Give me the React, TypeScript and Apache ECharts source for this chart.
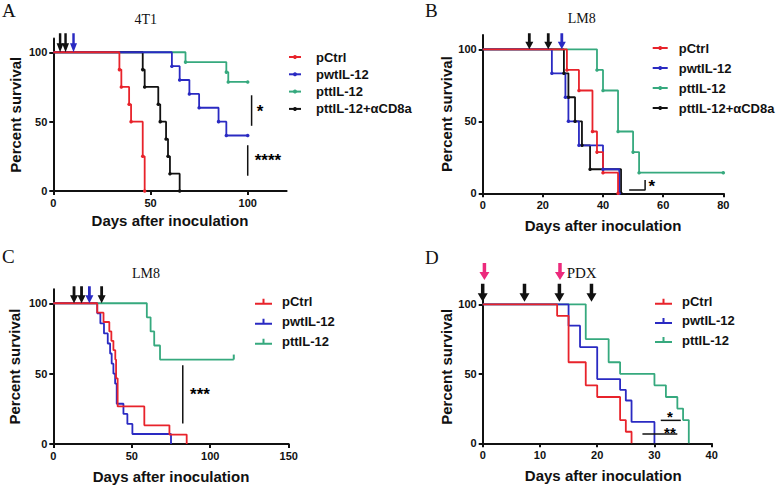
import React, { useEffect, useRef } from 'react';
import * as echarts from 'echarts';

// ---------- Data ----------
// Panel A (4T1)
const A_pCtrl = [[0, 100], [34, 87.5], [35, 75], [39, 62.5], [40, 50], [46, 25], [47, 0]];
const A_pwtIL12 = [[0, 100], [61, 90], [65, 80], [70, 70], [75, 60], [85, 50], [89, 40], [100, 40]];
const A_pttIL12 = [[0, 100], [68, 92.9], [89, 85.7], [90, 78.6], [100, 78.6]];
const A_aCD8a = [[0, 100], [46, 87.5], [47, 75], [54, 62.5], [55, 50], [58, 37.5], [59, 25], [60, 12.5], [65, 0]];
const A_blackArrows = [3.5, 6.3];
const A_blueArrows = [10.4];

// Panel B (LM8)
const B_pCtrl = [[0, 100], [28, 85.7], [32, 71.4], [36.5, 42.9], [38, 28.6], [40, 14.3], [45, 0]];
const B_pwtIL12 = [[0, 100], [23, 83.3], [27.5, 66.7], [28.5, 50], [32, 33.3], [40, 16.7], [45.4, 0]];
const B_pttIL12 = [[0, 100], [38, 85.7], [40, 71.4], [45, 42.9], [50, 28.6], [52, 14.3], [80, 14.3]];
const B_aCD8a = [[0, 100], [27, 83.3], [28.5, 66.7], [30.7, 50], [33, 33.3], [35.7, 16.7], [46, 0]];
const B_blackArrows = [15.5, 21.8];
const B_blueArrows = [26.3];

// Panel C (LM8)
const C_pCtrl = [[0, 100], [28, 93.3], [32, 86.7], [35.7, 80], [37, 73.3], [38.3, 66.7], [39.5, 60], [40, 46.7], [41, 26.7], [58, 13.3], [74, 6.7], [85, 0]];
const C_pwtIL12 = [[0, 100], [28, 92.9], [30, 85.7], [32.3, 78.6], [34.7, 71.4], [36.2, 64.3], [37.2, 57.1], [38.3, 50], [39.4, 42.9], [40.4, 28.6], [44.7, 21.4], [47.2, 14.3], [50.4, 7.1], [75, 0]];
const C_pttIL12 = [[0, 100], [59.6, 90], [62, 80], [64.3, 70], [68, 60], [115, 60]];
const C_censor = [[115, 60]];
const C_blackArrows = [13.2, 18, 30.8];
const C_blueArrows = [23];

// Panel D (PDX)
const D_pCtrl = [[0, 100], [13, 91.7], [15, 58.3], [18, 41.7], [20, 33.3], [24, 16.7], [25, 8.3], [26, 0]];
const D_pwtIL12 = [[0, 100], [15, 84.6], [17, 69.2], [20, 46.2], [24, 38.5], [25, 30.8], [26, 15.4], [30, 0]];
const D_pttIL12 = [[0, 100], [18, 75], [22, 58.3], [24, 50], [30, 41.7], [32, 33.3], [34, 25], [35, 16.7], [36, 0]];
const D_blackArrows = [0, 7.3, 13.4, 19];
const D_pinkArrows = [0.3, 13.5];

const legendABNames = ['pCtrl', 'pwtIL-12', 'pttIL-12', 'pttIL-12+αCD8a'];
const legendCDNames = ['pCtrl', 'pwtIL-12', 'pttIL-12'];

// ---------- Styles ----------
const SANS = '"Liberation Sans", Arial, Helvetica, sans-serif';
const SERIF = '"Liberation Serif", "Times New Roman", serif';
const RED = '#e8232b';
const BLUE = '#2a2ac2';
const GREEN = '#36a97e';
const BLACK = '#111111';
const PINK = '#ec2a7c';
const ARROW = 'path://M2.6,0 L5.4,0 L5.4,9.5 L8,9.5 L4,18 L0,9.5 L2.6,9.5 Z';
const TICKICON = 'path://M0,4 L17,4 L17,6 L0,6 Z M7.5,0 L9.5,0 L9.5,5 L7.5,5 Z';

function km(name: string, data: number[][], color: string, gi: number, dots: boolean) {
  return {
    type: 'line', name, xAxisIndex: gi, yAxisIndex: gi, step: 'end',
    data: data.map((p, i) => (i === 0 ? { value: p, symbol: 'none' } : p)),
    symbol: dots ? 'circle' : 'none', symbolSize: 3.5, showSymbol: dots,
    lineStyle: { color, width: 1.8 }, itemStyle: { color, opacity: 1 },
    clip: false, silent: true, z: 3,
  };
}
function arrows(xs: number[], color: string, gi: number, w: number, h: number, lift: number) {
  return {
    type: 'scatter', xAxisIndex: gi, yAxisIndex: gi, data: xs.map((x) => [x, 100]),
    symbol: ARROW, symbolSize: [w, h], symbolOffset: [0, -(h / 2 + lift)],
    itemStyle: { color, opacity: 1 }, clip: false, silent: true, z: 5,
  };
}
function seg(pts: number[][], gi: number) {
  return {
    type: 'line', xAxisIndex: gi, yAxisIndex: gi, data: pts, symbol: 'none', showSymbol: false,
    lineStyle: { color: BLACK, width: 1.5 }, silent: true, clip: false, z: 4,
  };
}
function star(x: number, y: number, text: string, gi: number, size = 17) {
  return {
    type: 'scatter', xAxisIndex: gi, yAxisIndex: gi, data: [[x, y]], symbol: 'circle', symbolSize: 0.1,
    itemStyle: { color: 'rgba(255,255,255,0)', opacity: 1 },
    label: { show: true, position: 'inside', formatter: text, fontSize: size, fontWeight: 'bold', color: '#000', opacity: 1, fontFamily: SANS, offset: [0, size * 0.24], lineHeight: 10 },
    silent: true, clip: false, z: 6,
  };
}

const axisCommon = {
  axisLine: { lineStyle: { color: BLACK, width: 2 } },
  axisTick: { length: 4, lineStyle: { color: BLACK, width: 2 } },
  splitLine: { show: false },
  nameTextStyle: { fontFamily: SANS, fontSize: 15, fontWeight: 'bold', color: BLACK },
};
function xAx(gi: number, max: number, interval: number, ticks: number[], nameGap: number, namePad: number[]) {
  return {
    ...axisCommon, type: 'value', gridIndex: gi, min: 0, max, interval,
    name: 'Days after inoculation', nameLocation: 'middle', nameGap,
    nameTextStyle: { ...axisCommon.nameTextStyle, padding: namePad },
    axisTick: { ...axisCommon.axisTick, customValues: ticks },
    axisLabel: { customValues: ticks, fontFamily: SANS, fontSize: 11, fontWeight: 'bold', color: BLACK, margin: 6 },
  };
}
function yAx(gi: number, nameGap: number) {
  const ticks = [0, 50, 100];
  return {
    ...axisCommon, type: 'value', gridIndex: gi, min: 0, max: 110, interval: 50,
    name: 'Percent survival', nameLocation: 'middle', nameGap,
    axisTick: { ...axisCommon.axisTick, customValues: ticks },
    axisLabel: { customValues: ticks, fontFamily: SANS, fontSize: 11, fontWeight: 'bold', color: BLACK, margin: 6 },
  };
}
function legend(prefix: string, names: string[], left: number, top: number, itemWidth: number, itemHeight: number, gap: number, pad: number, icon?: string) {
  return {
    orient: 'vertical', left, top, itemWidth, itemHeight, itemGap: gap, padding: 0, selectedMode: false,
    data: names.map((n) => (icon ? { name: prefix + '|' + n, icon } : { name: prefix + '|' + n })),
    formatter: (name: string) => name.split('|')[1],
    textStyle: { fontFamily: SANS, fontSize: 13, fontWeight: 'bold', color: BLACK, lineHeight: 14, padding: [0, 0, 0, pad] },
  };
}
function label(text: string, x: number, y: number, size: number, align = 'left') {
  return { type: 'text', x, y, silent: true, style: { text, font: `${size}px ${SERIF}`, fill: BLACK, align, verticalAlign: 'middle' } };
}

export default function App() {
  const ref = useRef<HTMLDivElement>(null);
  useEffect(() => {
    const chart = echarts.init(ref.current!, undefined, { renderer: 'svg' });
    const option: any = {
      animation: false,
      backgroundColor: '#ffffff',
      grid: [
        { left: 53.3, top: 38.4, width: 233.3, height: 152.6 },
        { left: 482.7, top: 34.9, width: 240.6, height: 158.4 },
        { left: 53.3, top: 289.2, width: 235.4, height: 154.8 },
        { left: 482.7, top: 290.4, width: 229, height: 152.9 },
      ],
      xAxis: [
        xAx(0, 120, 50, [0, 50, 100], 22, [0, 0, 0, 0]),
        xAx(1, 80, 20, [0, 20, 40, 60, 80], 25, [0, 0, 0, 0]),
        xAx(2, 150, 50, [0, 50, 100, 150], 25, [0, 0, 0, 0]),
        xAx(3, 40, 10, [0, 10, 20, 30, 40], 25, [0, 0, 0, 12]),
      ],
      yAxis: [yAx(0, 30), yAx(1, 27), yAx(2, 31), yAx(3, 27)],
      legend: [
        legend('A', legendABNames, 288, 50, 12, 5, 3.3, 10),
        legend('B', legendABNames, 651.7, 41, 15, 5, 6, 6),
        legend('C', legendCDNames, 255, 294.7, 17, 6, 6, 5, TICKICON),
        legend('D', legendCDNames, 655, 294.7, 17, 6, 5.2, 5, TICKICON),
      ],
      graphic: [
        label('A', 2, 10.5, 19), label('B', 425, 10.5, 19), label('C', 2, 256, 19), label('D', 425, 257, 19),
        label('4T1', 145.8, 19, 14, 'center'), label('LM8', 581.7, 18.3, 14, 'center'),
        label('LM8', 146, 273.3, 14, 'center'), label('PDX', 581.7, 272.7, 15, 'center'),
      ],
      series: [
        // A
        km('A|pttIL-12', A_pttIL12, GREEN, 0, true),
        km('A|pttIL-12+αCD8a', A_aCD8a, BLACK, 0, true),
        km('A|pwtIL-12', A_pwtIL12, BLUE, 0, true),
        km('A|pCtrl', A_pCtrl, RED, 0, true),
        arrows(A_blackArrows, BLACK, 0, 7, 19, 0),
        arrows(A_blueArrows, BLUE, 0, 7, 19, 0),
        seg([[102, 69], [102, 47]], 0), seg([[100, 33], [100, 11]], 0),
        star(106.3, 60.3, '*', 0), star(110.4, 24.7, '****', 0),
        // B
        km('B|pttIL-12', B_pttIL12, GREEN, 1, true),
        km('B|pttIL-12+αCD8a', B_aCD8a, BLACK, 1, true),
        km('B|pwtIL-12', B_pwtIL12, BLUE, 1, true),
        km('B|pCtrl', B_pCtrl, RED, 1, true),
        arrows(B_blackArrows, BLACK, 1, 8, 16, 0),
        arrows(B_blueArrows, BLUE, 1, 8, 16, 0),
        seg([[48.7, 2.3], [54, 2.3], [54, 9.3]], 1),
        star(56.2, 7.4, '*', 1),
        // C
        km('C|pttIL-12', C_pttIL12, GREEN, 2, false),
        km('C|pwtIL-12', C_pwtIL12, BLUE, 2, false),
        km('C|pCtrl', C_pCtrl, RED, 2, false),
        {
          type: 'scatter', xAxisIndex: 2, yAxisIndex: 2, data: C_censor, symbol: 'rect', symbolSize: [2, 5],
          symbolOffset: [0, -2.5], itemStyle: { color: GREEN, opacity: 1 }, silent: true, clip: false, z: 4,
        },
        arrows(C_blackArrows, BLACK, 2, 8, 17, 0),
        arrows(C_blueArrows, BLUE, 2, 8, 17, 0),
        seg([[82.5, 56], [82.5, 14.5]], 2),
        star(93.5, 38.4, '***', 2),
        // D
        km('D|pttIL-12', D_pttIL12, GREEN, 3, false),
        km('D|pwtIL-12', D_pwtIL12, BLUE, 3, false),
        km('D|pCtrl', D_pCtrl, RED, 3, false),
        arrows(D_blackArrows, BLACK, 3, 10, 18, 2.6),
        arrows(D_pinkArrows, PINK, 3, 10, 17, 24.3),
        seg([[31.1, 16.5], [34.6, 16.5]], 3), seg([[27.9, 6.7], [34, 6.7]], 3),
        star(32.7, 21.6, '*', 3, 15), star(32.7, 10.4, '**', 3, 15),
      ],
    };
    chart.setOption(option);
    return () => chart.dispose();
  }, []);
  return <div ref={ref} style={{ position: 'fixed', left: 0, top: 0, width: 778, height: 487, background: '#fff' }} />;
}
